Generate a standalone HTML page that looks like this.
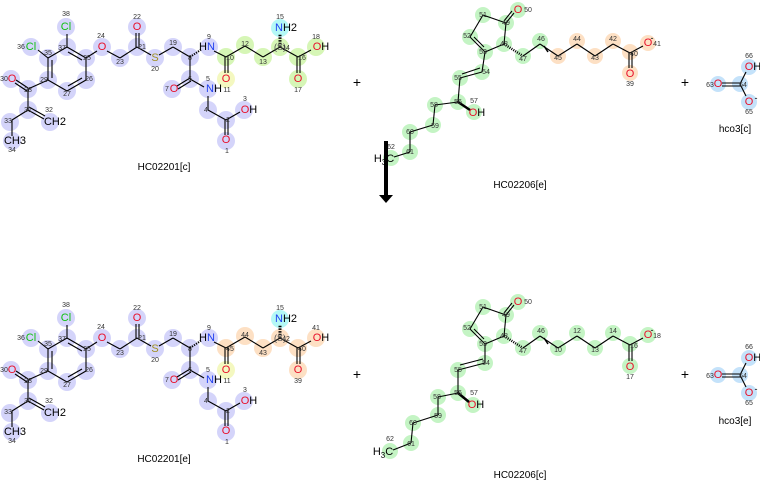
<!DOCTYPE html>
<html><head><meta charset="utf-8"><style>
html,body{margin:0;padding:0;background:#fff;width:760px;height:480px;overflow:hidden}
svg{display:block;font-family:"Liberation Sans","DejaVu Sans",sans-serif}
.n{font-size:7px;fill:#333;text-anchor:middle}
.a{font-size:11px;text-anchor:middle;dominant-baseline:central}
.t{font-size:10px;text-anchor:middle;fill:#000}
.O{fill:#e8102a}.N{fill:#2040f0}.Cl{fill:#10c010}.S{fill:#a09020}.K{fill:#000}
line{stroke:#000;stroke-width:1.1}
.B circle{fill:#d4d4fa}.G circle{fill:#c4f4c4}.Y circle{fill:#d6f6b6}.Or circle{fill:#fde0c4}.L circle{fill:#c4e2fa}
</style></head><body>
<svg width="760" height="480" viewBox="0 0 760 480">
<defs>
<g id="b1">
<line x1="67" y1="47" x2="67" y2="34"/><line x1="48" y1="58" x2="38" y2="50"/>
<line x1="67" y1="47" x2="86" y2="58"/><line x1="86" y1="58" x2="86" y2="80"/><line x1="86" y1="80" x2="67" y2="91"/><line x1="67" y1="91" x2="48" y2="80"/><line x1="48" y1="80" x2="48" y2="58"/><line x1="48" y1="58" x2="67" y2="47"/>
<line x1="68" y1="52" x2="82" y2="60"/><line x1="82" y1="78" x2="68" y2="86"/><line x1="52" y1="78" x2="52" y2="60"/>
<line x1="86" y1="58" x2="97" y2="51"/><line x1="107" y1="51" x2="120" y2="58"/><line x1="120" y1="58" x2="137" y2="47"/>
<line x1="136" y1="47" x2="136" y2="33"/><line x1="139" y1="47" x2="139" y2="33"/>
<line x1="137" y1="47" x2="151" y2="55"/><line x1="159" y1="55" x2="173" y2="47"/><line x1="173" y1="47" x2="190" y2="57"/>
<line x1="190" y1="57" x2="202" y2="49" style="stroke-dasharray:1.2 1.2;stroke-width:2"/>
<line x1="214" y1="51" x2="226" y2="57"/><line x1="226" y1="57" x2="245" y2="46"/><line x1="245" y1="46" x2="263" y2="57"/><line x1="263" y1="57" x2="280" y2="47"/>
<line x1="225" y1="57" x2="225" y2="73"/><line x1="228" y1="57" x2="228" y2="73"/>
<line x1="280" y1="47" x2="280" y2="34" style="stroke-dasharray:1.5 1.2;stroke-width:3"/>
<line x1="280" y1="47" x2="298" y2="57"/><line x1="298" y1="57" x2="311" y2="50"/>
<line x1="297" y1="57" x2="297" y2="73"/><line x1="300" y1="57" x2="300" y2="73"/>
<line x1="190" y1="57" x2="190" y2="79"/><line x1="190" y1="78" x2="177" y2="86"/><line x1="191" y1="81" x2="178" y2="89"/>
<line x1="190" y1="79" x2="204" y2="87"/><line x1="208" y1="96" x2="208" y2="110"/><line x1="208" y1="110" x2="226" y2="120"/><line x1="226" y1="120" x2="240" y2="112"/>
<line x1="225" y1="120" x2="225" y2="135"/><line x1="228" y1="120" x2="228" y2="135"/>
<line x1="48" y1="80" x2="28" y2="89"/><line x1="28" y1="88" x2="16" y2="80"/><line x1="27" y1="91" x2="15" y2="83"/>
<line x1="28" y1="89" x2="28" y2="110"/><line x1="28" y1="110" x2="44" y2="119"/><line x1="29" y1="107" x2="45" y2="116"/>
<line x1="28" y1="110" x2="12" y2="120"/><line x1="12" y1="120" x2="12" y2="136"/>
</g>
<g id="hc">
<line x1="740" y1="83" x2="722" y2="83"/><line x1="740" y1="86" x2="722" y2="86"/>
<line x1="740" y1="84" x2="746" y2="72"/><line x1="740" y1="84" x2="746" y2="96"/>
</g>
</defs>
<!-- highlights mol1 top -->
<g class="B">
<circle cx="66" cy="27" r="9"/><circle cx="31" cy="47" r="9"/><circle cx="67" cy="47" r="9"/><circle cx="48" cy="58" r="9"/><circle cx="86" cy="58" r="9"/><circle cx="86" cy="80" r="9"/><circle cx="67" cy="91" r="9"/><circle cx="48" cy="80" r="9"/><circle cx="28" cy="89" r="9"/><circle cx="11" cy="79" r="9"/><circle cx="28" cy="110" r="9"/><circle cx="50" cy="122" r="9"/><circle cx="10" cy="122" r="9"/><circle cx="12" cy="141" r="9"/>
<circle cx="102" cy="47" r="9"/><circle cx="120" cy="58" r="9"/><circle cx="137" cy="47" r="9"/><circle cx="137" cy="27" r="9"/><circle cx="155" cy="58" r="9"/><circle cx="173" cy="47" r="9"/><circle cx="190" cy="57" r="9"/><circle cx="209" cy="47" r="9"/>
<circle cx="190" cy="79" r="9"/><circle cx="172" cy="89" r="9"/><circle cx="208" cy="89" r="9"/><circle cx="208" cy="110" r="9"/><circle cx="226" cy="120" r="9"/><circle cx="244" cy="110" r="9"/><circle cx="226" cy="141" r="9"/>
</g>
<g class="Y"><circle cx="226" cy="57" r="9"/><circle cx="245" cy="45" r="9"/><circle cx="263" cy="57" r="9"/><circle cx="280" cy="47" r="9"/><circle cx="298" cy="57" r="9"/><circle cx="298" cy="79" r="9"/><circle cx="316" cy="47" r="9"/></g>
<circle cx="226" cy="79" r="9" fill="#f4f8c0"/><circle cx="280" cy="28" r="9" fill="#b4f8f6"/>
<!-- highlights mol1 bottom -->
<g transform="translate(0,291)">
<g class="B">
<circle cx="66" cy="27" r="9"/><circle cx="31" cy="47" r="9"/><circle cx="67" cy="47" r="9"/><circle cx="48" cy="58" r="9"/><circle cx="86" cy="58" r="9"/><circle cx="86" cy="80" r="9"/><circle cx="67" cy="91" r="9"/><circle cx="48" cy="80" r="9"/><circle cx="28" cy="89" r="9"/><circle cx="11" cy="79" r="9"/><circle cx="28" cy="110" r="9"/><circle cx="50" cy="122" r="9"/><circle cx="10" cy="122" r="9"/><circle cx="12" cy="141" r="9"/>
<circle cx="102" cy="47" r="9"/><circle cx="120" cy="58" r="9"/><circle cx="137" cy="47" r="9"/><circle cx="137" cy="27" r="9"/><circle cx="155" cy="58" r="9"/><circle cx="173" cy="47" r="9"/><circle cx="190" cy="57" r="9"/><circle cx="209" cy="47" r="9"/>
<circle cx="190" cy="79" r="9"/><circle cx="172" cy="89" r="9"/><circle cx="208" cy="89" r="9"/><circle cx="208" cy="110" r="9"/><circle cx="226" cy="120" r="9"/><circle cx="244" cy="110" r="9"/><circle cx="226" cy="141" r="9"/>
</g>
<g class="Or"><circle cx="226" cy="57" r="9"/><circle cx="245" cy="45" r="9"/><circle cx="263" cy="57" r="9"/><circle cx="280" cy="47" r="9"/><circle cx="298" cy="57" r="9"/><circle cx="298" cy="79" r="9"/><circle cx="316" cy="47" r="9"/></g>
<circle cx="226" cy="79" r="9" fill="#f4f8c0"/><circle cx="280" cy="28" r="9" fill="#b4f8f6"/>
</g>
<use href="#b1"/><use href="#b1" y="291"/>
<!-- mol1 labels top -->
<g>
<text class="a Cl" x="66" y="27">Cl</text><text class="a Cl" x="31" y="47">Cl</text><text class="a O" x="102" y="47">O</text><text class="a O" x="137" y="27">O</text><text class="a S" x="155" y="58">S</text>
<text class="a" x="207" y="47"><tspan class="K">H</tspan><tspan class="N">N</tspan></text><text class="a O" x="226" y="79">O</text>
<text class="a" x="286" y="28"><tspan class="N">N</tspan><tspan class="K">H2</tspan></text><text class="a" x="321" y="47"><tspan class="O">O</tspan><tspan class="K">H</tspan></text><text class="a O" x="298" y="79">O</text>
<text class="a K" x="280" y="47" style="font-size:9px;fill:#555">(S)</text>
<text class="a O" x="174" y="89">O</text><text class="a" x="214" y="89"><tspan class="N">N</tspan><tspan class="K">H</tspan></text><text class="a" x="249" y="110"><tspan class="O">O</tspan><tspan class="K">H</tspan></text><text class="a O" x="226" y="140">O</text>
<text class="a O" x="12" y="79">O</text><text class="a K" x="55" y="122">CH2</text><text class="a K" x="15" y="141">CH3</text>
<text class="n" x="66" y="16">38</text><text class="n" x="21" y="49">36</text><text class="n" x="62" y="50">37</text><text class="n" x="48" y="55">35</text><text class="n" x="87" y="60">25</text><text class="n" x="89" y="81">26</text><text class="n" x="67" y="96">27</text><text class="n" x="44" y="82">29</text><text class="n" x="28" y="92">28</text><text class="n" x="4" y="81">30</text><text class="n" x="28" y="112">31</text><text class="n" x="49" y="112">32</text><text class="n" x="8" y="123">33</text><text class="n" x="12" y="152">34</text>
<text class="n" x="101" y="38">24</text><text class="n" x="120" y="64">23</text><text class="n" x="142" y="49">21</text><text class="n" x="137" y="19">22</text><text class="n" x="155" y="71">20</text><text class="n" x="173" y="45">19</text><text class="n" x="190" y="60">8</text><text class="n" x="209" y="39">9</text><text class="n" x="230" y="60">10</text><text class="n" x="227" y="92">11</text><text class="n" x="245" y="46">12</text><text class="n" x="263" y="64">13</text><text class="n" x="286" y="50">14</text><text class="n" x="280" y="19">15</text><text class="n" x="302" y="60">16</text><text class="n" x="298" y="92">17</text><text class="n" x="316" y="39">18</text>
<text class="n" x="190" y="81">6</text><text class="n" x="167" y="91">7</text><text class="n" x="208" y="81">5</text><text class="n" x="206" y="112">4</text><text class="n" x="228" y="122">2</text><text class="n" x="245" y="101">3</text><text class="n" x="227" y="153">1</text>
<text class="t" x="164" y="170">HC02201[c]</text>
</g>
<!-- mol1 labels bottom -->
<g transform="translate(0,291)">
<text class="a Cl" x="66" y="27">Cl</text><text class="a Cl" x="31" y="47">Cl</text><text class="a O" x="102" y="47">O</text><text class="a O" x="137" y="27">O</text><text class="a S" x="155" y="58">S</text>
<text class="a" x="207" y="47"><tspan class="K">H</tspan><tspan class="N">N</tspan></text><text class="a O" x="226" y="79">O</text>
<text class="a" x="286" y="28"><tspan class="N">N</tspan><tspan class="K">H2</tspan></text><text class="a" x="321" y="47"><tspan class="O">O</tspan><tspan class="K">H</tspan></text><text class="a O" x="298" y="79">O</text>
<text class="a K" x="280" y="47" style="font-size:9px;fill:#555">(S)</text>
<text class="a O" x="174" y="89">O</text><text class="a" x="214" y="89"><tspan class="N">N</tspan><tspan class="K">H</tspan></text><text class="a" x="249" y="110"><tspan class="O">O</tspan><tspan class="K">H</tspan></text><text class="a O" x="226" y="140">O</text>
<text class="a O" x="12" y="79">O</text><text class="a K" x="55" y="122">CH2</text><text class="a K" x="15" y="141">CH3</text>
<text class="n" x="66" y="16">38</text><text class="n" x="21" y="49">36</text><text class="n" x="62" y="50">37</text><text class="n" x="48" y="55">35</text><text class="n" x="87" y="60">25</text><text class="n" x="89" y="81">26</text><text class="n" x="67" y="96">27</text><text class="n" x="44" y="82">29</text><text class="n" x="28" y="92">28</text><text class="n" x="4" y="81">30</text><text class="n" x="28" y="112">31</text><text class="n" x="49" y="112">32</text><text class="n" x="8" y="123">33</text><text class="n" x="12" y="152">34</text>
<text class="n" x="101" y="38">24</text><text class="n" x="120" y="64">23</text><text class="n" x="142" y="49">21</text><text class="n" x="137" y="19">22</text><text class="n" x="155" y="71">20</text><text class="n" x="173" y="45">19</text><text class="n" x="190" y="60">8</text><text class="n" x="209" y="39">9</text><text class="n" x="230" y="60">45</text><text class="n" x="227" y="92">11</text><text class="n" x="245" y="46">44</text><text class="n" x="263" y="64">43</text><text class="n" x="286" y="50">42</text><text class="n" x="280" y="19">15</text><text class="n" x="302" y="60">40</text><text class="n" x="298" y="92">39</text><text class="n" x="316" y="39">41</text>
<text class="n" x="190" y="81">6</text><text class="n" x="167" y="91">7</text><text class="n" x="208" y="81">5</text><text class="n" x="206" y="112">4</text><text class="n" x="228" y="122">2</text><text class="n" x="245" y="101">3</text><text class="n" x="227" y="153">1</text>
<text class="t" x="164" y="171">HC02201[e]</text>
</g>
<!-- mol2 top -->
<g class="G">
<circle cx="518" cy="10" r="8"/><circle cx="483" cy="15" r="8"/><circle cx="506" cy="23" r="8"/><circle cx="470" cy="37" r="8"/><circle cx="504" cy="44" r="8"/><circle cx="485" cy="52" r="8"/><circle cx="523" cy="56" r="8"/><circle cx="540" cy="41" r="8"/>
<circle cx="482" cy="72" r="8"/><circle cx="460" cy="78" r="8"/><circle cx="458" cy="102" r="8"/><circle cx="474" cy="112" r="8"/><circle cx="435" cy="105" r="8"/><circle cx="433" cy="125" r="8"/><circle cx="410" cy="132" r="8"/><circle cx="410" cy="152" r="8"/><circle cx="391" cy="158" r="8"/>
</g>
<g class="Or"><circle cx="558" cy="56" r="8"/><circle cx="577" cy="41" r="8"/><circle cx="595" cy="56" r="8"/><circle cx="613" cy="41" r="8"/><circle cx="630" cy="52" r="8"/><circle cx="648" cy="43" r="8"/><circle cx="630" cy="73" r="8"/></g>
<g>
<line x1="483" y1="15" x2="506" y2="23"/><line x1="506" y1="23" x2="504" y2="44"/><line x1="504" y1="44" x2="485" y2="52"/><line x1="485" y1="52" x2="470" y2="37"/><line x1="484" y1="47" x2="474" y2="37"/><line x1="470" y1="37" x2="483" y2="15"/>
<line x1="506" y1="23" x2="514" y2="13"/><line x1="504" y1="21" x2="512" y2="11"/>
<line x1="504" y1="44" x2="523" y2="56" style="stroke-dasharray:1 1.2;stroke-width:2.5"/>
<line x1="523" y1="56" x2="540" y2="44"/><line x1="540" y1="44" x2="558" y2="56"/><line x1="558" y1="56" x2="577" y2="44"/><line x1="577" y1="44" x2="595" y2="56"/><line x1="595" y1="56" x2="613" y2="44"/><line x1="613" y1="44" x2="630" y2="53"/><line x1="630" y1="53" x2="643" y2="46"/>
<line x1="629" y1="53" x2="629" y2="68"/><line x1="632" y1="53" x2="632" y2="68"/>
<line x1="485" y1="52" x2="482" y2="72"/><line x1="482" y1="72" x2="460" y2="78"/><line x1="480" y1="68" x2="462" y2="74"/>
<line x1="460" y1="78" x2="458" y2="102"/><line x1="458" y1="102" x2="470" y2="110" style="stroke-width:2.5"/><line x1="458" y1="102" x2="435" y2="105"/><line x1="435" y1="105" x2="433" y2="125"/><line x1="433" y1="125" x2="410" y2="132"/><line x1="410" y1="132" x2="410" y2="152"/><line x1="410" y1="152" x2="394" y2="157"/>
<line x1="544" y1="46" x2="548" y2="52" style="stroke-width:1.5"/>
<text class="a O" x="518" y="10">O</text><text class="a" x="477" y="113"><tspan class="O">O</tspan><tspan class="K">H</tspan></text><text class="a O" x="648" y="43">O</text><text class="a K" x="652" y="38" style="font-size:9px">-</text><text class="a O" x="630" y="74">O</text>
<text class="a K" x="384" y="159">H<tspan style="font-size:8px" dy="3">3</tspan><tspan dy="-3">C</tspan></text>
<text class="n" x="528" y="12">50</text><text class="n" x="483" y="17">51</text><text class="n" x="506" y="25">49</text><text class="n" x="467" y="38">52</text><text class="n" x="504" y="46">48</text><text class="n" x="483" y="54">53</text><text class="n" x="523" y="61">47</text><text class="n" x="541" y="41">46</text><text class="n" x="558" y="60">45</text><text class="n" x="577" y="41">44</text><text class="n" x="595" y="60">43</text><text class="n" x="613" y="41">42</text><text class="n" x="634" y="56">40</text><text class="n" x="657" y="46">41</text><text class="n" x="630" y="86">39</text>
<text class="n" x="486" y="74">54</text><text class="n" x="458" y="80">55</text><text class="n" x="458" y="104">56</text><text class="n" x="474" y="103">57</text><text class="n" x="434" y="107">58</text><text class="n" x="435" y="128">59</text><text class="n" x="410" y="134">60</text><text class="n" x="410" y="154">61</text><text class="n" x="391" y="149">62</text>
<text class="t" x="520" y="188">HC02206[e]</text>
</g>
<!-- mol2 bottom -->
<g transform="translate(0,292)">
<g class="G">
<circle cx="518" cy="10" r="8"/><circle cx="483" cy="15" r="8"/><circle cx="506" cy="23" r="8"/><circle cx="470" cy="37" r="8"/><circle cx="504" cy="44" r="8"/><circle cx="485" cy="52" r="8"/><circle cx="523" cy="56" r="8"/><circle cx="540" cy="41" r="8"/>
<circle cx="485" cy="71" r="8"/><circle cx="458" cy="78" r="8"/><circle cx="458" cy="101" r="8"/><circle cx="473" cy="113" r="8"/><circle cx="438" cy="105" r="8"/><circle cx="438" cy="123" r="8"/><circle cx="413" cy="131" r="8"/><circle cx="411" cy="151" r="8"/><circle cx="390" cy="159" r="8"/>
<circle cx="558" cy="56" r="8"/><circle cx="577" cy="41" r="8"/><circle cx="595" cy="56" r="8"/><circle cx="613" cy="41" r="8"/><circle cx="630" cy="52" r="8"/><circle cx="648" cy="43" r="8"/><circle cx="630" cy="74" r="8"/>
</g>
<line x1="483" y1="15" x2="506" y2="23"/><line x1="506" y1="23" x2="504" y2="44"/><line x1="504" y1="44" x2="485" y2="52"/><line x1="485" y1="52" x2="470" y2="37"/><line x1="484" y1="47" x2="474" y2="37"/><line x1="470" y1="37" x2="483" y2="15"/>
<line x1="506" y1="23" x2="514" y2="13"/><line x1="504" y1="21" x2="512" y2="11"/>
<line x1="504" y1="44" x2="523" y2="56" style="stroke-dasharray:1 1.2;stroke-width:2.5"/>
<line x1="523" y1="56" x2="540" y2="44"/><line x1="540" y1="44" x2="558" y2="56"/><line x1="558" y1="56" x2="577" y2="44"/><line x1="577" y1="44" x2="595" y2="56"/><line x1="595" y1="56" x2="613" y2="44"/><line x1="613" y1="44" x2="630" y2="53"/><line x1="630" y1="53" x2="643" y2="46"/>
<line x1="629" y1="53" x2="629" y2="69"/><line x1="632" y1="53" x2="632" y2="69"/>
<line x1="485" y1="52" x2="485" y2="71"/><line x1="485" y1="71" x2="458" y2="78"/><line x1="483" y1="67" x2="460" y2="73"/>
<line x1="458" y1="78" x2="458" y2="101"/><line x1="458" y1="101" x2="469" y2="110" style="stroke-width:2.5"/><line x1="458" y1="101" x2="438" y2="105"/><line x1="438" y1="105" x2="438" y2="123"/><line x1="438" y1="123" x2="413" y2="131"/><line x1="413" y1="131" x2="411" y2="151"/><line x1="411" y1="151" x2="393" y2="158"/>
<line x1="544" y1="46" x2="548" y2="52" style="stroke-width:1.5"/>
<text class="a O" x="518" y="10">O</text><text class="a" x="476" y="113"><tspan class="O">O</tspan><tspan class="K">H</tspan></text><text class="a O" x="648" y="43">O</text><text class="a K" x="652" y="38" style="font-size:9px">-</text><text class="a O" x="630" y="75">O</text>
<text class="a K" x="383" y="160">H<tspan style="font-size:8px" dy="3">3</tspan><tspan dy="-3">C</tspan></text>
<text class="n" x="528" y="12">50</text><text class="n" x="483" y="17">51</text><text class="n" x="506" y="25">49</text><text class="n" x="467" y="38">52</text><text class="n" x="504" y="46">48</text><text class="n" x="483" y="54">53</text><text class="n" x="523" y="61">47</text><text class="n" x="541" y="41">46</text><text class="n" x="558" y="60">10</text><text class="n" x="577" y="41">12</text><text class="n" x="595" y="60">13</text><text class="n" x="613" y="41">14</text><text class="n" x="634" y="56">16</text><text class="n" x="657" y="46">18</text><text class="n" x="630" y="87">17</text>
<text class="n" x="486" y="73">54</text><text class="n" x="458" y="80">55</text><text class="n" x="458" y="103">56</text><text class="n" x="474" y="103">57</text><text class="n" x="437" y="107">58</text><text class="n" x="438" y="126">59</text><text class="n" x="413" y="133">60</text><text class="n" x="411" y="154">61</text><text class="n" x="390" y="149">62</text>
<text class="t" x="520" y="186">HC02206[c]</text>
</g>
<!-- hco3 -->
<g class="L"><circle cx="718" cy="84" r="8"/><circle cx="740" cy="84" r="8"/><circle cx="749" cy="67" r="8"/><circle cx="749" cy="102" r="8"/>
<circle cx="718" cy="375" r="8"/><circle cx="740" cy="375" r="8"/><circle cx="749" cy="358" r="8"/><circle cx="749" cy="393" r="8"/></g>
<use href="#hc"/><use href="#hc" y="291"/>
<text class="a O" x="718" y="84">O</text><text class="a" x="753" y="67"><tspan class="O">O</tspan><tspan class="K">H</tspan></text><text class="a O" x="749" y="102">O</text><text class="a K" x="756" y="98" style="font-size:9px">-</text>
<text class="n" x="710" y="87">63</text><text class="n" x="743" y="87">64</text><text class="n" x="749" y="58">66</text><text class="n" x="749" y="114">65</text>
<text class="t" x="735" y="132">hco3[c]</text>
<text class="a O" x="718" y="375">O</text><text class="a" x="753" y="358"><tspan class="O">O</tspan><tspan class="K">H</tspan></text><text class="a O" x="749" y="393">O</text><text class="a K" x="756" y="389" style="font-size:9px">-</text>
<text class="n" x="710" y="378">63</text><text class="n" x="743" y="378">64</text><text class="n" x="749" y="349">66</text><text class="n" x="749" y="405">65</text>
<text class="t" x="735" y="424">hco3[e]</text>
<!-- plus signs -->
<text class="a K" x="357" y="82" style="font-size:14px">+</text><text class="a K" x="685" y="82" style="font-size:14px">+</text>
<text class="a K" x="357" y="374" style="font-size:14px">+</text><text class="a K" x="685" y="374" style="font-size:14px">+</text>
<!-- arrow -->
<rect x="384" y="141" width="4" height="55" fill="#000"/>
<polygon points="379,195 393,195 386,203" fill="#000"/>
</svg>
</body></html>
